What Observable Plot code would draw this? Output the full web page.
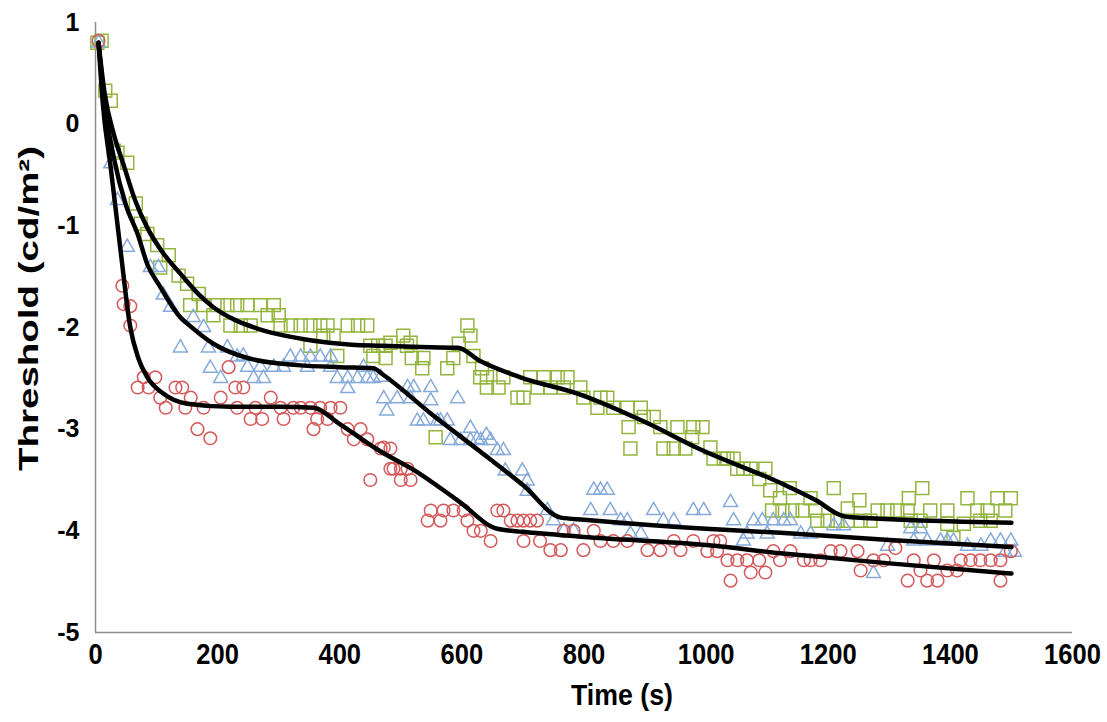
<!DOCTYPE html>
<html><head><meta charset="utf-8">
<script src="https://cdn.jsdelivr.net/npm/d3@7"></script>
<script src="https://cdn.jsdelivr.net/npm/@observablehq/plot@0.6"></script>
<style>body{margin:0;background:#fff}</style>
</head><body><div id="chart"></div>
<script>
const xTicks = [0, 200, 400, 600, 800, 1000, 1200, 1400, 1600];
const yTicks = [1, 0, -1, -2, -3, -4, -5];
const xTitle = "Time (s)";
const yTitle = "Threshold (cd/m²)";

// Green squares [time, threshold]
const greenPoints = [[3,0.8],[10,0.82],[16,0.33],[25,0.23],[30,-0.26],[36,-0.28],[52,-0.38],[66,-0.78],[74,-0.98],[85,-1.08],[101,-1.19],[106,-1.41],[120,-1.29],[136,-1.49],[150,-1.57],[155,-1.78],[169,-1.67],[177,-1.78],[193,-1.88],[200,-1.78],[216,-1.78],[221,-1.98],[232,-1.78],[238,-1.98],[249,-1.78],[254,-1.98],[270,-1.78],[282,-1.88],[292,-1.78],[300,-1.88],[303,-1.98],[320,-1.98],[336,-1.98],[352,-1.98],[352,-2.18],[368,-1.98],[373,-2.08],[380,-1.98],[390,-2.08],[396,-2.28],[413,-1.98],[430,-1.98],[445,-1.98],[450,-2.18],[455,-2.28],[463,-2.18],[475,-2.18],[475,-2.3],[483,-2.15],[504,-2.08],[510,-2.18],[516,-2.15],[518,-2.3],[535,-2.4],[537,-2.3],[557,-3.08],[576,-2.4],[586,-2.3],[595,-2.16],[609,-1.98],[614,-2.08],[619,-2.28],[630,-2.49],[633,-2.4],[641,-2.49],[641,-2.59],[660,-2.59],[668,-2.49],[691,-2.69],[701,-2.69],[712,-2.49],[724,-2.59],[734,-2.49],[745,-2.59],[757,-2.49],[767,-2.59],[773,-2.49],[794,-2.59],[799,-2.69],[822,-2.79],[827,-2.69],[838,-2.69],[848,-2.79],[871,-2.79],[873,-2.98],[876,-3.19],[893,-2.79],[898,-2.88],[914,-2.88],[925,-2.98],[930,-3.19],[947,-3.19],[953,-2.98],[966,-3.19],[977,-3.08],[979,-2.98],[994,-2.98],[1007,-3.18],[1012,-3.29],[1029,-3.29],[1035,-3.29],[1045,-3.29],[1051,-3.39],[1061,-3.39],[1073,-3.39],[1087,-3.49],[1097,-3.39],[1105,-3.6],[1108,-3.8],[1121,-3.68],[1125,-3.8],[1137,-3.58],[1141,-3.8],[1158,-3.8],[1171,-3.68],[1179,-3.8],[1182,-3.9],[1199,-3.9],[1209,-3.58],[1215,-3.9],[1232,-3.9],[1232,-3.78],[1251,-3.7],[1253,-3.9],[1269,-3.9],[1281,-3.8],[1297,-3.8],[1313,-3.8],[1330,-3.8],[1332,-3.68],[1335,-3.9],[1351,-3.9],[1354,-3.58],[1367,-3.8],[1395,-3.8],[1395,-3.93],[1405,-4.07],[1422,-3.93],[1428,-3.68],[1444,-3.8],[1449,-3.9],[1461,-3.8],[1466,-3.9],[1477,-3.68],[1490,-3.8],[1499,-3.68]];

// Blue triangles [time, threshold]
const bluePoints = [[5,0.8],[25,-0.39],[36,-0.75],[52,-1.21],[90,-1.41],[103,-1.41],[111,-1.68],[123,-1.8],[139,-2.2],[160,-1.9],[177,-2.0],[185,-2.2],[188,-2.4],[205,-2.5],[216,-2.2],[232,-2.29],[242,-2.28],[249,-2.39],[259,-2.5],[270,-2.39],[275,-2.5],[292,-2.39],[308,-2.39],[319,-2.29],[336,-2.29],[347,-2.39],[352,-2.29],[368,-2.29],[385,-2.29],[385,-2.39],[396,-2.5],[413,-2.5],[413,-2.6],[429,-2.5],[439,-2.39],[445,-2.5],[455,-2.5],[467,-2.49],[472,-2.7],[477,-2.82],[494,-2.7],[511,-2.59],[516,-2.7],[521,-2.59],[527,-2.92],[537,-2.92],[549,-2.59],[549,-2.72],[560,-2.92],[565,-2.92],[576,-2.92],[581,-3.11],[593,-2.7],[598,-3.11],[614,-2.99],[614,-3.11],[625,-3.1],[631,-3.11],[640,-3.06],[647,-3.11],[658,-3.21],[668,-3.21],[671,-3.41],[699,-3.41],[707,-3.51],[707,-3.61],[740,-3.8],[750,-3.9],[767,-4.0],[783,-4.0],[811,-3.8],[816,-3.6],[827,-3.6],[838,-3.6],[843,-3.8],[860,-3.9],[871,-3.9],[876,-4.03],[893,-4.03],[914,-3.8],[930,-3.9],[947,-3.9],[979,-3.8],[996,-3.8],[1040,-3.72],[1045,-3.9],[1061,-4.1],[1067,-4.03],[1078,-3.9],[1092,-3.9],[1100,-4.03],[1110,-3.9],[1127,-3.9],[1138,-3.9],[1155,-4.03],[1171,-4.03],[1209,-3.95],[1225,-3.95],[1274,-4.42],[1297,-4.15],[1335,-3.98],[1340,-4.1],[1351,-3.98],[1362,-4.1],[1384,-4.1],[1395,-4.1],[1405,-4.1],[1428,-4.15],[1450,-4.15],[1466,-4.1],[1482,-4.1],[1490,-4.21],[1499,-4.1],[1505,-4.21]];

// Red circles [time, threshold]
const redPoints = [[5,0.82],[44,-1.59],[46,-1.77],[57,-1.79],[57,-1.98],[69,-2.59],[79,-2.49],[87,-2.59],[98,-2.49],[106,-2.69],[115,-2.79],[131,-2.59],[142,-2.59],[147,-2.79],[156,-2.69],[167,-3.0],[177,-2.79],[188,-3.09],[205,-2.69],[218,-2.39],[229,-2.59],[232,-2.79],[242,-2.59],[254,-2.9],[262,-2.79],[273,-2.9],[287,-2.69],[303,-2.79],[308,-2.9],[324,-2.79],[336,-2.79],[352,-2.79],[357,-3.0],[363,-2.9],[368,-2.79],[380,-2.9],[385,-2.79],[401,-2.79],[413,-3.0],[423,-3.1],[434,-3.0],[445,-3.1],[450,-3.5],[467,-3.19],[472,-3.18],[483,-3.19],[483,-3.39],[488,-3.39],[500,-3.39],[500,-3.5],[511,-3.39],[516,-3.5],[544,-3.9],[549,-3.8],[565,-3.9],[570,-3.8],[586,-3.8],[603,-3.8],[609,-3.9],[619,-4.0],[631,-4.0],[647,-4.1],[658,-3.8],[668,-3.8],[680,-3.9],[691,-3.9],[701,-3.9],[701,-4.1],[712,-3.9],[723,-3.9],[728,-4.1],[745,-4.19],[762,-4.19],[767,-4.0],[783,-4.0],[799,-4.19],[816,-4.0],[827,-4.1],[848,-4.1],[871,-4.1],[904,-4.19],[925,-4.19],[947,-4.1],[958,-4.19],[979,-4.1],[1002,-4.2],[1012,-4.1],[1018,-4.2],[1023,-4.1],[1035,-4.29],[1040,-4.49],[1051,-4.29],[1067,-4.29],[1073,-4.41],[1087,-4.29],[1097,-4.41],[1110,-4.2],[1121,-4.29],[1138,-4.2],[1160,-4.29],[1171,-4.29],[1187,-4.29],[1204,-4.2],[1220,-4.2],[1248,-4.2],[1253,-4.39],[1274,-4.29],[1291,-4.29],[1310,-4.17],[1330,-4.49],[1340,-4.29],[1351,-4.39],[1362,-4.49],[1373,-4.29],[1379,-4.49],[1395,-4.39],[1411,-4.39],[1417,-4.29],[1433,-4.29],[1449,-4.29],[1466,-4.29],[1482,-4.29],[1482,-4.49],[1499,-4.2]];

// Fitted curves [time, threshold]
const greenFit = [[5,0.8],[15,0.3],[30,-0.1],[46,-0.4],[65,-0.75],[85,-1.02],[111,-1.27],[139,-1.47],[170,-1.68],[193,-1.8],[230,-1.93],[265,-2.01],[310,-2.08],[357,-2.13],[420,-2.17],[467,-2.18],[520,-2.19],[593,-2.2],[630,-2.33],[696,-2.49],[794,-2.66],[900,-2.93],[991,-3.2],[1122,-3.53],[1180,-3.7],[1222,-3.85],[1245,-3.87],[1500,-3.92]];
const blueFit = [[5,0.8],[15,0.2],[30,-0.33],[50,-0.8],[69,-1.08],[85,-1.38],[106,-1.6],[139,-1.9],[150,-1.96],[193,-2.16],[249,-2.3],[331,-2.37],[400,-2.39],[455,-2.4],[470,-2.46],[550,-2.85],[630,-3.22],[700,-3.55],[762,-3.87],[800,-3.89],[1000,-3.98],[1122,-4.02],[1300,-4.09],[1500,-4.16]];
const redFit = [[5,0.8],[12,0.2],[25,-0.43],[41,-1.24],[57,-2.0],[70,-2.3],[85,-2.49],[111,-2.65],[150,-2.75],[221,-2.78],[300,-2.78],[357,-2.79],[400,-2.95],[467,-3.22],[521,-3.4],[593,-3.7],[658,-3.98],[700,-4.01],[800,-4.06],[1000,-4.14],[1122,-4.22],[1300,-4.32],[1500,-4.42]];

const colors = {green: "#93b53e", blue: "#86abdb", red: "#d4595a"};

const dotOpts = (stroke, symbol, r) => ({x: d => d[0], y: d => d[1], stroke, symbol, r, fill: "none", strokeWidth: 1.5});
const lineOpts = {x: d => d[0], y: d => d[1], stroke: "#000", strokeWidth: 4.5, curve: "monotone-x"};

const chart = Plot.plot({
  width: 1107, height: 722,
  marginLeft: 95, marginRight: 35, marginTop: 22, marginBottom: 90,
  style: {fontFamily: "'Liberation Sans', Arial, sans-serif", background: "#fff", color: "#000"},
  x: {domain: [0, 1600]},
  y: {domain: [-5, 1]},
  marks: [
    Plot.ruleX([0], {stroke: "#8c8c8c", strokeWidth: 1.5}),
    Plot.ruleY([-5], {stroke: "#8c8c8c", strokeWidth: 1.5}),
    Plot.axisX({ticks: xTicks, tickSize: 0, tickPadding: 11, fontSize: 29, fontWeight: "bold", label: null, tickFormat: d => String(d)}),
    Plot.axisY({ticks: yTicks, tickSize: 0, tickPadding: 16, fontSize: 25, fontWeight: "bold", label: null, tickFormat: d => String(d)}),
    Plot.dot(greenPoints, dotOpts(colors.green, "square", 7.3)),
    Plot.dot(bluePoints, dotOpts(colors.blue, "triangle", 5.2)),
    Plot.dot(redPoints, dotOpts(colors.red, "circle", 6.3)),
    Plot.line(greenFit, lineOpts),
    Plot.line(blueFit, lineOpts),
    Plot.line(redFit, lineOpts),
    Plot.text([xTitle], {frameAnchor: "bottom", dx: 38, dy: 72, fontSize: 30, fontWeight: "bold", textAnchor: "middle"}),
    Plot.text([yTitle], {frameAnchor: "left", dx: -66, dy: -19, rotate: -90, fontSize: 28, fontWeight: "bold", textAnchor: "middle"})
  ]
});
document.getElementById("chart").appendChild(chart);

// Condense/stretch texts to match the reference proportions
chart.querySelectorAll('g[aria-label="x-axis tick label"] text').forEach(t => {
  t.setAttribute("textLength", t.textContent.length * 14.2);
  t.setAttribute("lengthAdjust", "spacingAndGlyphs");
});
chart.querySelectorAll("text").forEach(t => {
  if (t.textContent === xTitle) { t.setAttribute("textLength", 102); t.setAttribute("lengthAdjust", "spacingAndGlyphs"); }
  if (t.textContent === yTitle) { t.setAttribute("textLength", 325); t.setAttribute("lengthAdjust", "spacingAndGlyphs"); }
});
</script>
</body></html>
